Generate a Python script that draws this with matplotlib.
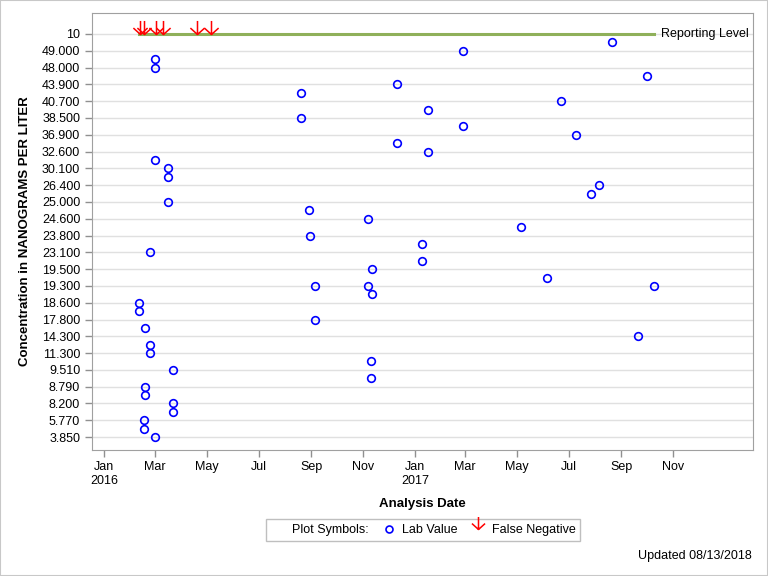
import numpy as np
import matplotlib
matplotlib.use("Agg")
import matplotlib.pyplot as plt
import matplotlib.dates as mdates
from matplotlib.path import Path
from matplotlib.lines import Line2D
from matplotlib.patches import Rectangle
import pandas as pd

plt.rcParams['font.family'] = ['Liberation Sans', 'DejaVu Sans']

# Y axis is a discrete scale: labelled levels, top to bottom
y_labels = ["10", "49.000", "48.000", "43.900", "40.700", "38.500", "36.900",
            "32.600", "30.100", "26.400", "25.000", "24.600", "23.800", "23.100",
            "19.500", "19.300", "18.600", "17.800", "14.300", "11.300", "9.510",
            "8.790", "8.200", "5.770", "3.850"]

# Lab values (date, position on the discrete scale; .5 = unlabelled level)
lab_dates = ["2016-03-01", "2016-03-01", "2016-03-01", "2016-03-16", "2016-03-16",
             "2016-03-16", "2016-02-24", "2016-02-11", "2016-02-11", "2016-02-18",
             "2016-02-24", "2016-02-24", "2016-03-22", "2016-02-18", "2016-02-18",
             "2016-03-22", "2016-03-22", "2016-02-17", "2016-02-17", "2016-03-01",
             "2016-08-20", "2016-08-20", "2016-08-29", "2016-08-30", "2016-09-06",
             "2016-09-06", "2016-11-07", "2016-11-11", "2016-11-07", "2016-11-11",
             "2016-11-10", "2016-11-10", "2016-12-11", "2016-12-11", "2017-01-16",
             "2017-01-17", "2017-01-09", "2017-01-09", "2017-02-27", "2017-02-27",
             "2017-05-06", "2017-06-05", "2017-06-22", "2017-07-10", "2017-07-27",
             "2017-08-06", "2017-08-21", "2017-10-01", "2017-09-21", "2017-10-09"]
lab_pos = [1.5, 2.0, 7.5, 8.0, 8.5,
           10.0, 13.0, 16.0, 16.5, 17.5,
           18.5, 19.0, 20.0, 21.0, 21.5,
           22.0, 22.5, 23.0, 23.5, 24.0,
           3.5, 5.0, 10.5, 12.0, 15.0,
           17.0, 11.0, 14.0, 15.0, 15.5,
           19.5, 20.5, 3.0, 6.5, 4.5,
           7.0, 12.5, 13.5, 1.0, 5.5,
           11.5, 14.5, 4.0, 6.0, 9.5,
           9.0, 0.5, 2.5, 18.0, 15.0]

# False negatives, drawn at the reporting level
fn_dates = ["2016-02-12", "2016-02-17", "2016-03-02", "2016-03-11", "2016-04-20", "2016-05-06"]

# Reporting level line
rl_dates = ["2016-02-11", "2017-10-09"]

lab_x = pd.to_datetime(lab_dates)
fn_x = pd.to_datetime(fn_dates)
rl_x = pd.to_datetime(rl_dates)

# down arrow marker, tip at the data point
arrow = Path([(0, 2), (0, 0), (-1.05, 0.95), (0, 0), (1.05, 0.95)],
             [Path.MOVETO, Path.LINETO, Path.MOVETO, Path.LINETO, Path.LINETO])

fig = plt.figure(figsize=(7.68, 5.76), dpi=100)
ax = fig.add_axes([92/768, 1-450/576, (753-92)/768, (450-13)/576])

for k in range(len(y_labels)):
    ax.axhline(k, color="#e0e0e0", lw=1, zorder=0)

ax.plot(rl_x, [0, 0], color="#8fb05a", lw=2.2, zorder=2)
ax.text(rl_x[1] + pd.Timedelta(days=9), 0, "Reporting Level", va="center", ha="left", fontsize=9)

ax.plot(lab_x, lab_pos, linestyle="none", marker="o", ms=5.5, mfc="none",
        mec="blue", mew=1.2, zorder=3)
ax.plot(fn_x, [0]*len(fn_x), linestyle="none", marker=arrow, ms=19.5,
        mec="red", mfc="none", mew=1.1, zorder=4)

ax.set_yticks(range(len(y_labels)))
ax.set_yticklabels(y_labels)
ax.set_ylim(24.77, -1.25)

ax.set_xlim(pd.Timestamp("2015-12-18"), pd.Timestamp("2018-02-03"))
ticks = pd.date_range("2016-01-01", "2017-11-01", freq="2MS")
ax.set_xticks(ticks)
ax.set_xticklabels([t.strftime("%b") + ("\n" + t.strftime("%Y") if t.month == 1 else "") for t in ticks])

ax.tick_params(axis="both", labelsize=9, color="#909090", length=5, width=1)
ax.tick_params(axis="x", pad=3)
for s in ax.spines.values():
    s.set_color("#a0a0a0")

ax.set_xlabel("Analysis Date", fontsize=9.5, fontweight="bold", labelpad=8)
ax.set_ylabel("Concentration in NANOGRAMS PER LITER", fontsize=9.5, fontweight="bold", labelpad=8)

handles = [Line2D([], [], linestyle="none"),
           Line2D([], [], linestyle="none", marker="o", ms=5, mfc="none", mec="blue", mew=1.2),
           Line2D([], [], linestyle="none", marker=arrow, ms=18, mfc="none", mec="red", mew=1.1)]
leg = fig.legend(handles, ["Plot Symbols:", "Lab Value", "False Negative"], ncol=3,
                 loc="center", bbox_to_anchor=(423/768, 1-530/576), fontsize=9,
                 frameon=True, fancybox=False, edgecolor="#b0b0b0", handlelength=1.2,
                 handletextpad=0.5, columnspacing=1.0, borderpad=0.4)
leg.get_frame().set_linewidth(1)

fig.text(752/768, 1-556/576, "Updated 08/13/2018", ha="right", va="center", fontsize=9)
fig.patches.append(Rectangle((0, 0), 1, 1, transform=fig.transFigure, fill=False,
                             edgecolor="#c8c8c8", lw=1.5))

fig.savefig("out.png", dpi=100)
